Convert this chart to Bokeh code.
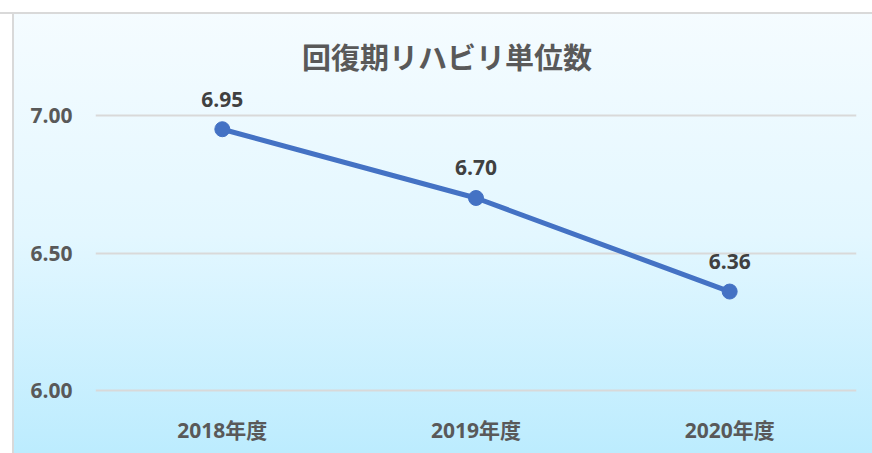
from bokeh.plotting import figure
from bokeh.models import ColumnDataSource, Range1d, FixedTicker, PrintfTickFormatter
from bokeh.transform import dodge
from bokeh.core.properties import value
from bokeh.embed import file_html
from bokeh.resources import INLINE

title_text = "回復期リハビリ単位数"
categories = ["2018年度", "2019年度", "2020年度"]
values = [6.95, 6.70, 6.36]
labels = ["6.95", "6.70", "6.36"]
y_ticks = [6.0, 6.5, 7.0]

FONT = "Open Sans, Noto Sans CJK JP"

p = figure(
    width=872, height=453,
    x_range=categories,
    y_range=Range1d(5.993, 7.367),
    output_backend="svg", toolbar_location=None,
    min_border_left=95, min_border_right=16,
    min_border_top=14, min_border_bottom=61,
)
p.border_fill_color = None
p.background_fill_color = None
p.outline_line_color = None
p.styles = {
    "background": (
        "linear-gradient(to bottom, #ffffff 0px, #ffffff 12px, #d9d9d9 12px, #d9d9d9 14px, transparent 14px), "
        "linear-gradient(to right, #ffffff 0px, #ffffff 12px, #d9d9d9 12px, #d9d9d9 14px, transparent 14px), "
        "linear-gradient(to bottom, #f6fcff 0%, #e3f7ff 52%, #bcecfe 100%)"
    )
}

src = ColumnDataSource(dict(x=categories, y=values, label=labels))

p.line("x", "y", source=src, line_color="#4472C4", line_width=5)
p.scatter("x", "y", source=src, size=15, fill_color="#4472C4", line_color="#4472C4")
p.text("x", "y", text="label", source=src, y_offset=-30,
       text_align="center", text_baseline="middle",
       text_font=value(FONT), text_font_style="bold",
       text_font_size="21px", text_color="#404040")

tsrc = ColumnDataSource(dict(x=[categories[1]], y=[7.211], t=[title_text]))
p.text(dodge("x", -0.114, range=p.x_range), "y", text="t", source=tsrc,
       text_align="center", text_baseline="middle",
       text_font=value(FONT), text_font_style="bold",
       text_font_size="29px", text_color="#595959")

p.yaxis.ticker = FixedTicker(ticks=y_ticks)
p.yaxis.formatter = PrintfTickFormatter(format="%.2f")
for ax in (p.xaxis[0], p.yaxis[0]):
    ax.axis_line_color = None
    ax.major_tick_line_color = None
    ax.minor_tick_line_color = None
    ax.major_tick_in = 0
    ax.major_tick_out = 0
    ax.major_label_text_font = FONT
    ax.major_label_text_font_style = "bold"
    ax.major_label_text_font_size = "21px"
    ax.major_label_text_color = "#595959"
p.yaxis.major_label_standoff = 23
p.xaxis.major_label_standoff = 23

p.xgrid.grid_line_color = None
p.ygrid.ticker = FixedTicker(ticks=y_ticks)
p.ygrid.grid_line_color = "#d9d9d9"
p.ygrid.grid_line_width = 2

open("out.html", "w").write(file_html(p, INLINE))
